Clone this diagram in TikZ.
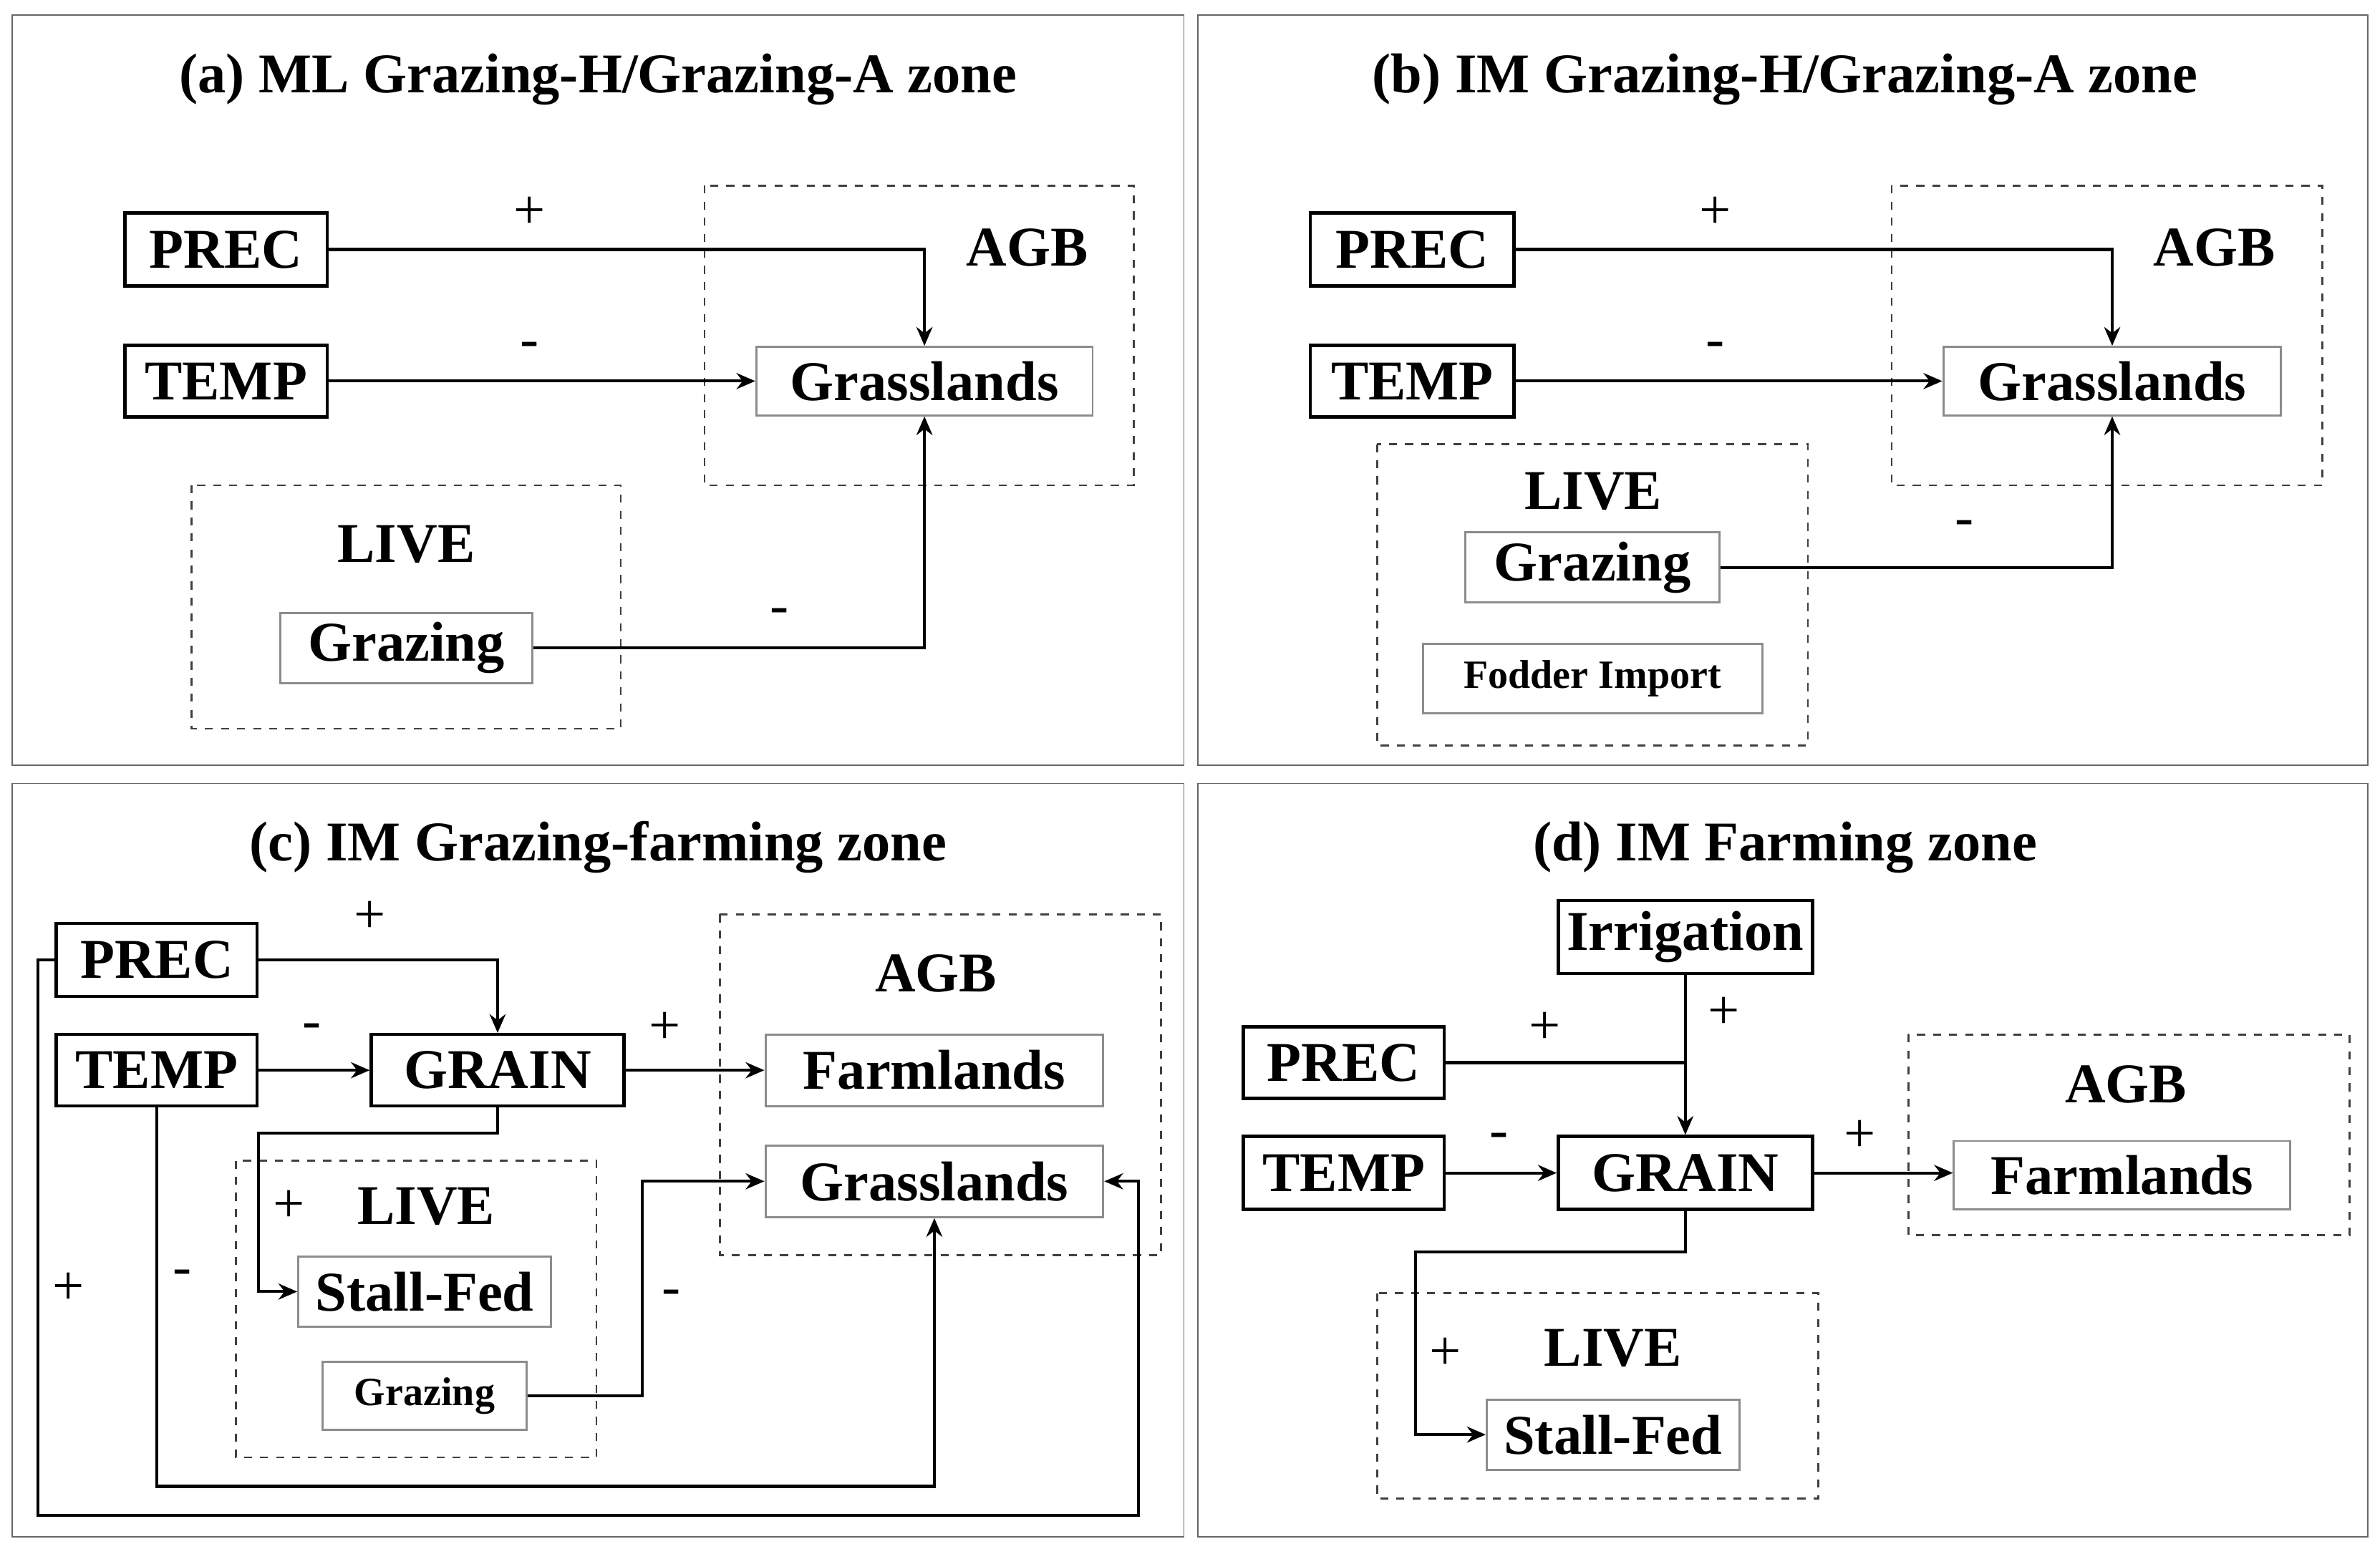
\documentclass[tikz,border=0pt]{standalone}
\usepackage{fontspec}
\setmainfont{Liberation Serif}
\usetikzlibrary{arrows.meta}
\begin{document}
\begin{tikzpicture}[x=0.2mm,y=-0.2mm,
  panel/.style={draw=black!60,line width=0.5pt},
  zone/.style={draw=black!75,dashed,line width=0.7pt},
  bw/.style={minimum width=#1*0.2mm},
  bh/.style={minimum height=#1*0.2mm},
  var/.style={draw=black,line width=1.2pt,inner sep=0pt,font=\fontsize{21}{21}\bfseries\selectfont},
  obj/.style={draw=black!45,line width=0.8pt,inner sep=0pt,font=\fontsize{21}{21}\bfseries\selectfont},
  sml/.style={draw=black!45,line width=0.8pt,inner sep=0pt,font=\fontsize{15}{15}\bfseries\selectfont},
  lab/.style={font=\fontsize{21}{21}\bfseries\selectfont},
  ttl/.style={font=\fontsize{21}{21}\bfseries\selectfont},
  sg/.style={font=\fontsize{21}{21}\selectfont},
  arr/.style={line width=1.1pt,-{Stealth[length=7pt,width=6pt]}},
  ln/.style={line width=1.1pt}]
\useasboundingbox (0,0) rectangle (1564,1018);
% panels
\draw[panel] (8,10) rectangle (778,503);
\draw[panel] (787,10) rectangle (1556,503);
\draw[panel] (8,515) rectangle (778,1010);
\draw[panel] (787,515) rectangle (1556,1010);
% ---------- (a)
\node[ttl] (ta) at (393,52) {(a) ML Grazing-H/Grazing-A zone};
\draw[zone] (463,122) rectangle (745,319);
\draw[zone] (126,319) rectangle (408,479);
\node[lab] (a-agb) at (675,163) {AGB};
\node[lab] (a-live) at (267,358) {LIVE};
\node[var,bw=133,bh=48] (a-prec) at (148.5,164) {PREC};
\node[var,bw=133,bh=47] (a-temp) at (148.5,250.5) {TEMP};
\node[obj,bw=221,bh=45] (a-grass) at (607.5,250.5) {Grasslands};
\node[obj,bw=166,bh=46] (a-graz) at (267,426) {Grazing};
\draw[arr] (a-prec.east) -| (a-grass.north);
\draw[arr] (a-temp.east) -- (a-grass.west);
\draw[arr] (a-graz.east) -| (a-grass.south);
\node[sg] at (348,140) {+};
\node[sg] at (348,230) {-};
\node[sg] at (512,405) {-};
% ---------- (b)
\node[ttl] (tb) at (1173,52) {(b) IM Grazing-H/Grazing-A zone};
\draw[zone] (1243,122) rectangle (1526,319);
\draw[zone] (905,292) rectangle (1188,490);
\node[lab] (b-agb) at (1455,163) {AGB};
\node[lab] (b-live) at (1047,323) {LIVE};
\node[var,bw=134,bh=48] (b-prec) at (928,164) {PREC};
\node[var,bw=134,bh=47] (b-temp) at (928,250.5) {TEMP};
\node[obj,bw=222,bh=45] (b-grass) at (1388,250.5) {Grasslands};
\node[obj,bw=167,bh=46] (b-graz) at (1046.5,373) {Grazing};
\node[sml,bw=223,bh=46] (b-fod) at (1046.5,446) {Fodder Import};
\draw[arr] (b-prec.east) -| (b-grass.north);
\draw[arr] (b-temp.east) -- (b-grass.west);
\draw[arr] (b-graz.east) -| (b-grass.south);
\node[sg] at (1127,140) {+};
\node[sg] at (1127,230) {-};
\node[sg] at (1291,347) {-};
% ---------- (c)
\node[ttl] (tc) at (393,557) {(c) IM Grazing-farming zone};
\draw[zone] (473,601) rectangle (763,825);
\draw[zone] (155,763) rectangle (392,958);
\node[lab] (c-agb) at (615,640) {AGB};
\node[lab] (c-live) at (280,793) {LIVE};
\node[var,bw=132,bh=48] (c-prec) at (103,631) {PREC};
\node[var,bw=132,bh=47] (c-temp) at (103,703.5) {TEMP};
\node[var,bw=166,bh=47] (c-grain) at (327,703.5) {GRAIN};
\node[obj,bw=222,bh=47] (c-farm) at (614,703.5) {Farmlands};
\node[obj,bw=222,bh=47] (c-grass) at (614,776.5) {Grasslands};
\node[obj,bw=166,bh=46] (c-stall) at (279,849) {Stall-Fed};
\node[sml,bw=134,bh=45] (c-graz) at (279,917.5) {Grazing};
\draw[arr] (c-prec.east) -| (c-grain.north);
\draw[arr] (c-temp.east) -- (c-grain.west);
\draw[arr] (c-grain.east) -- (c-farm.west);
\draw[arr] (c-grain.south) -- (327,745) -- (170,745) |- (c-stall.west);
\draw[arr] (c-graz.east) -- (422,917.5) |- (c-grass.west);
\draw[arr] (c-temp.south) -- (103,977) -| (c-grass.south);
\draw[arr] (c-prec.west) -- (25,631) -- (25,996) -- (748,996) |- (c-grass.east);
\node[sg] at (243,603) {+};
\node[sg] at (205,678) {-};
\node[sg] at (437,676) {+};
\node[sg] at (190,793) {+};
\node[sg] at (441,853) {-};
\node[sg] at (120,840) {-};
\node[sg] at (45,847) {+};
% ---------- (d)
\node[ttl] (td) at (1173,557) {(d) IM Farming zone};
\draw[zone] (1254,680) rectangle (1544,812);
\draw[zone] (905,850) rectangle (1195,985);
\node[lab] (d-agb) at (1397,713) {AGB};
\node[lab] (d-live) at (1060,886) {LIVE};
\node[var,bw=167,bh=48] (d-irr) at (1107.5,616) {Irrigation};
\node[var,bw=132,bh=47] (d-prec) at (883,698.5) {PREC};
\node[var,bw=132,bh=48] (d-temp) at (883,771) {TEMP};
\node[var,bw=167,bh=48] (d-grain) at (1107.5,771) {GRAIN};
\node[obj,bw=221,bh=45] (d-farm) at (1394.5,772.5) {Farmlands};
\node[obj,bw=166,bh=46] (d-stall) at (1060,943) {Stall-Fed};
\coordinate (d-join) at (1107.5,698.5);
\draw[arr] (d-irr.south) -- (d-grain.north);
\draw[ln] (d-prec.east) -- (d-join);
\draw[arr] (d-temp.east) -- (d-grain.west);
\draw[arr] (d-grain.east) -- (d-farm.west |- d-grain.east);
\draw[arr] (d-grain.south) -- (1107.5,823) -- (930,823) |- (d-stall.west);
\node[sg] at (1133,666) {+};
\node[sg] at (1015,676) {+};
\node[sg] at (985,750) {-};
\node[sg] at (1222,747) {+};
\node[sg] at (950,890) {+};
\end{tikzpicture}
\end{document}
